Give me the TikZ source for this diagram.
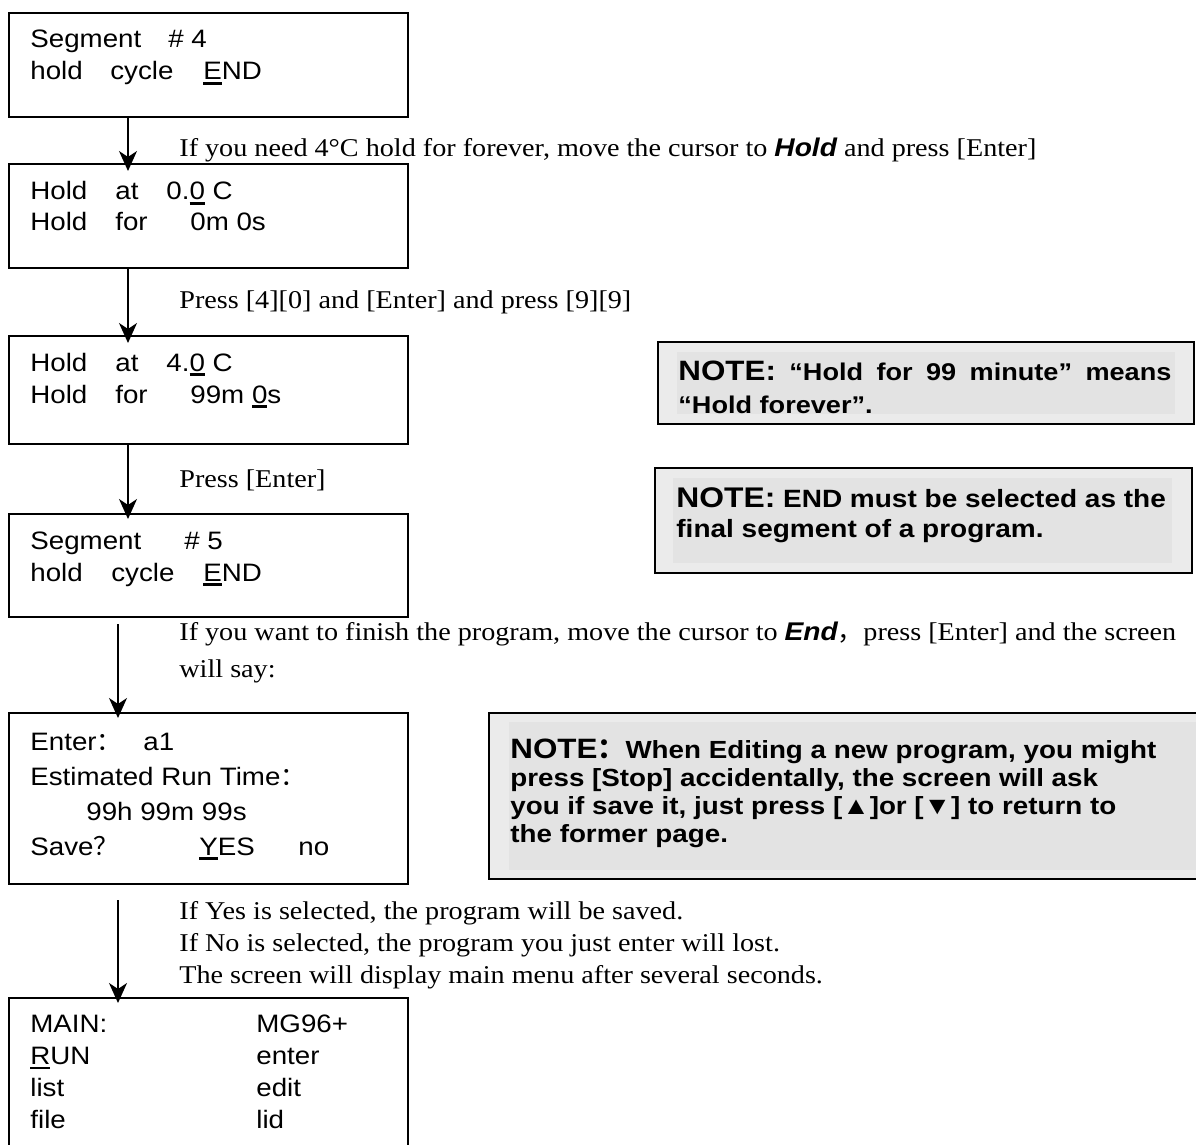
\documentclass[tikz,border=0pt]{standalone}
\usepackage{fontspec}
\setmainfont{Liberation Serif}[FakeStretch=1.1]
\newfontfamily\arialf{Liberation Sans}[FakeStretch=1.1]
\newfontfamily\notef{Liberation Sans}[FakeStretch=1.12]
\newfontfamily\cjk{Noto Sans CJK SC}
\usetikzlibrary{arrows.meta,calc}
\newcommand\cur[1]{\setbox0\hbox{#1}\rlap{\rule[-2.3pt]{\wd0}{1.3pt}}\box0{}}
\newcommand\scrfont{\arialf\fontsize{12.6}{16}\selectfont}
\newcommand\annfont{\fontsize{12.8}{16}\selectfont}
\tikzset{scr/.style={draw,line width=1pt,minimum width=199.5pt,anchor=north west,inner sep=0pt},
scrtxt/.style={anchor=base west,align=left,inner sep=0pt,font=\scrfont},
ann/.style={anchor=base west,align=left,inner sep=0pt,font=\annfont},
notebox/.style={draw,line width=1pt,fill=black!8,anchor=north west,inner sep=0pt},
notetxt/.style={anchor=base west,align=left,inner sep=0pt,font=\notef\bfseries},
arr/.style={-{Stealth[length=10pt,width=9pt,inset=3pt]},line width=0.8pt}}

\begin{document}
\begin{tikzpicture}[x=0.5pt,y=-0.5pt]
\useasboundingbox (0,0) rectangle (1196,1145);
\coordinate (c1) at (128,0);
\coordinate (c2) at (118,0);

% screens
\node[scr,minimum height=52pt] (b1) at (8,12) {};
\node[scr,minimum height=52pt] (b2) at (8,163) {};
\node[scr,minimum height=54pt] (b3) at (8,335) {};
\node[scr,minimum height=51.5pt] (b4) at (8,513) {};
\node[scr,minimum height=85.5pt] (b5) at (8,712) {};
\node[scr,minimum height=80pt] (b6) at (8,997) {};

% text sits on the baseline of its last line
\node[scrtxt] (s1) at (30,80) {\makebox[69pt][l]{Segment}\# 4\\
\makebox[40pt][l]{hold}\makebox[46.5pt][l]{cycle}\cur{E}ND};
\node[scrtxt,font=\arialf\fontsize{12.6}{15.5}\selectfont] (s2) at (30,231) {\makebox[42.5pt][l]{Hold}\makebox[25.5pt][l]{at}0.\cur{0} C\\
\makebox[42.5pt][l]{Hold}\makebox[37.5pt][l]{for}0m 0s};
\node[scrtxt] (s3) at (30,403) {\makebox[42.5pt][l]{Hold}\makebox[25.5pt][l]{at}4.\cur{0} C\\
\makebox[42.5pt][l]{Hold}\makebox[37.5pt][l]{for}99m \cur{0}s};
\node[scrtxt] (s4) at (30,581) {\makebox[77pt][l]{Segment}\# 5\\
\makebox[40.5pt][l]{hold}\makebox[46pt][l]{cycle}\cur{E}ND};
\node[scrtxt,font=\arialf\fontsize{12.6}{17.5}\selectfont] (s5) at (30,855) {\makebox[56.5pt][l]{Enter{\cjk ：}}a1\\
Estimated Run Time{\cjk ：}\\
\hspace*{28pt}99h 99m 99s\\
\makebox[84.5pt][l]{Save{\cjk ？}}\makebox[49.5pt][l]{\cur{Y}ES}no};
\node[scrtxt,font=\arialf\fontsize{12.6}{15.85}\selectfont] (s6) at (30,1128) {\makebox[113pt][l]{MAIN:}MG96+\\
\makebox[113pt][l]{\cur{R}UN}enter\\
\makebox[113pt][l]{list}edit\\
\makebox[113pt][l]{file}lid};

% steps
\draw[arr,shorten >=-4pt] (b1.south -| c1) -- (b2.north -| c1);
\draw[arr,shorten >=-4pt] (b2.south -| c1) -- (b3.north -| c1);
\draw[arr,shorten >=-3pt] (b3.south -| c1) -- (b4.north -| c1);
\draw[arr,shorten <=3pt,shorten >=-3pt] (b4.south -| c2) -- (b5.north -| c2);
\draw[arr,shorten <=7.5pt,shorten >=-3pt] (b5.south -| c2) -- (b6.north -| c2);

\node[ann] (a1) at (179,157) {If you need 4°C hold for forever, move the cursor to {\arialf\bfseries\itshape Hold} and press [Enter]};
\node[ann] (a2) at (179,308) {Press [4][0] and [Enter] and press [9][9]};
\node[ann] (a3) at (179,487) {Press [Enter]};
\node[ann,font=\fontsize{12.8}{18.5}\selectfont] (a4) at (179,677) {If you want to finish the program, move the cursor to {\arialf\bfseries\itshape End}{\cjk ，}press [Enter] and the screen\\
will say:};
\node[ann] (a5) at (179,983) {If Yes is selected, the program will be saved.\\
If No is selected, the program you just enter will lost.\\
The screen will display main menu after several seconds.};

% notes
\node[notebox,minimum width=268pt,minimum height=41pt] (n1) at (657,341) {};
\fill[black!11] ([shift={(20,11)}]n1.north west) rectangle ([shift={(-20,-11)}]n1.south east);
\node[notetxt,font=\notef\bfseries\fontsize{12.1}{16.5}\selectfont] (m1) at (678,413) {\makebox[246.5pt][s]{{\fontsize{14}{15}\selectfont NOTE:} “Hold for 99 minute” means}\\
“Hold forever”.};
\node[notebox,minimum width=268.5pt,minimum height=52.5pt] (n2) at (654,467) {};
\fill[black!11] ([shift={(19,11)}]n2.north west) rectangle ([shift={(-21,-11)}]n2.south east);
\node[notetxt,font=\notef\bfseries\fontsize{12.5}{15}\selectfont] (m2) at (676,537) {{\fontsize{14.2}{15}\selectfont NOTE:} END must be selected as the\\
final segment of a program.};
\node[notebox,minimum width=361pt,minimum height=83pt] (n3) at (488,712) {};
\fill[black!11] ([shift={(21,10)}]n3.north west) rectangle ([shift={(-10,-10)}]n3.south east);
\node[notetxt,font=\notef\bfseries\fontsize{12.4}{14}\selectfont] (m3) at (510,842) {{\fontsize{14}{14}\selectfont NOTE{\cjk\bfseries ：}}When Editing a new program, you might\\
press [Stop] accidentally, the screen will ask\\
you if save it, just press [▲]or [▼] to return to\\
the former page.};
\end{tikzpicture}
\end{document}
